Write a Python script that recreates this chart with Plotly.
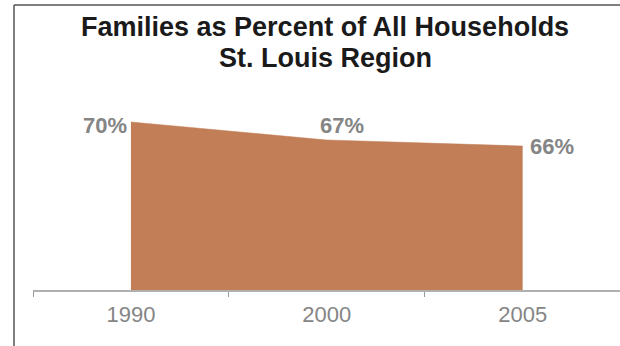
import plotly.graph_objects as go

# Share of households that are families, St. Louis region
years = ["1990", "2000", "2005"]
family_pct = [70, 67, 66]
pct_labels = ["70%", "67%", "66%"]
title_lines = ["Families as Percent of All Households", "St. Louis Region"]

W, H = 620, 346
ML, MR, MT, MB = 33, 0, 90, 56
plot_w = W - ML - MR
plot_h = H - MT - MB

def px_to_paper_x(px):
    return (px - ML) / plot_w

def px_to_paper_y(py):
    return (H - MB - py) / plot_h

FONT = "Liberation Sans, Arial, sans-serif"

fig = go.Figure()
fig.add_trace(go.Scatter(
    x=years, y=family_pct,
    mode="lines",
    line=dict(color="#C17E57", width=0.5),
    fill="tozeroy",
    fillcolor="#C17E57",
    hoverinfo="skip",
))

label_font = dict(family=FONT, size=22, color="#858585")
# label placement around each point: (xanchor, xshift, yshift)
label_pos = [("right", -2, -3), ("center", 15, 15), ("left", 5, 0)]
for i, (v, txt, (xa, xs, ys)) in enumerate(zip(family_pct, pct_labels, label_pos)):
    fig.add_annotation(
        x=i, y=v, xref="x", yref="y", text="<b>%s</b>" % txt,
        showarrow=False, xanchor=xa, yanchor="middle",
        xshift=xs, yshift=ys, font=label_font,
    )

# two-line bold title, one annotation per line
for line, cy in zip(title_lines, [27, 58]):
    fig.add_annotation(
        x=px_to_paper_x(325), y=px_to_paper_y(cy), xref="paper", yref="paper",
        text="<b>%s</b>" % line,
        showarrow=False, xanchor="center", yanchor="middle",
        font=dict(family=FONT, size=27, color="#1a1a1a"),
    )

# frame along the left and top edges
frame_color = "#555555"
fig.add_shape(type="line", xref="paper", yref="paper",
              x0=px_to_paper_x(14), x1=px_to_paper_x(14),
              y0=px_to_paper_y(5), y1=px_to_paper_y(H + 2),
              line=dict(color=frame_color, width=1.5))
fig.add_shape(type="line", xref="paper", yref="paper",
              x0=px_to_paper_x(14), x1=px_to_paper_x(W + 2),
              y0=px_to_paper_y(5), y1=px_to_paper_y(5),
              line=dict(color=frame_color, width=1.5))

fig.update_layout(
    width=W, height=H,
    margin=dict(l=ML, r=MR, t=MT, b=MB, pad=0),
    paper_bgcolor="white", plot_bgcolor="white",
    showlegend=False,
    xaxis=dict(
        type="category", range=[-0.5, 2.497],
        tickson="boundaries", ticks="outside", ticklen=5,
        tickcolor="#999999", tickwidth=1,
        showline=True, linecolor="#B0B0B0", linewidth=1.5,
        showgrid=False, zeroline=False,
        ticklabelstandoff=4,
        tickfont=dict(family=FONT, size=22, color="#858585"),
    ),
    yaxis=dict(
        range=[42, 42 + plot_h / 6.0],
        visible=False, showgrid=False, zeroline=False,
    ),
)

fig.write_html("out.html")
